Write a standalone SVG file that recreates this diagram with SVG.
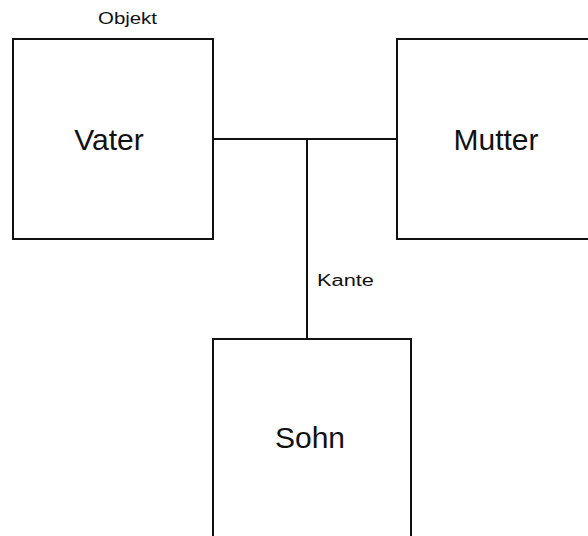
<svg xmlns="http://www.w3.org/2000/svg" width="588" height="536" viewBox="0 0 588 536">
<style>
.box{fill:#fff;stroke:#111;stroke-width:2}
.edge{fill:none;stroke:#111;stroke-width:2}
.big{font-family:"Liberation Sans",Arial,sans-serif;font-size:30px;fill:#111;text-anchor:middle}
.small{font-family:"Liberation Sans",Arial,sans-serif;font-size:16px;fill:#111}
</style>
<rect width="588" height="536" fill="#fff"/>
<g id="connectors">
<line class="edge" x1="213" y1="139" x2="397" y2="139"/>
<line class="edge" x1="307" y1="139" x2="307" y2="339"/>
<text class="small" x="317" y="286" textLength="57" lengthAdjust="spacingAndGlyphs">Kante</text>
</g>
<g id="vater">
<rect class="box" x="13" y="39" width="200" height="200"/>
<text class="big" x="109" y="150">Vater</text>
</g>
<g id="mutter">
<rect class="box" x="397" y="39" width="200" height="200"/>
<text class="big" x="496" y="150">Mutter</text>
</g>
<g id="sohn">
<rect class="box" x="213" y="339" width="198" height="210"/>
<text class="big" x="310" y="448">Sohn</text>
</g>
<text class="small" x="98" y="24" textLength="59" lengthAdjust="spacingAndGlyphs">Objekt</text>
</svg>
